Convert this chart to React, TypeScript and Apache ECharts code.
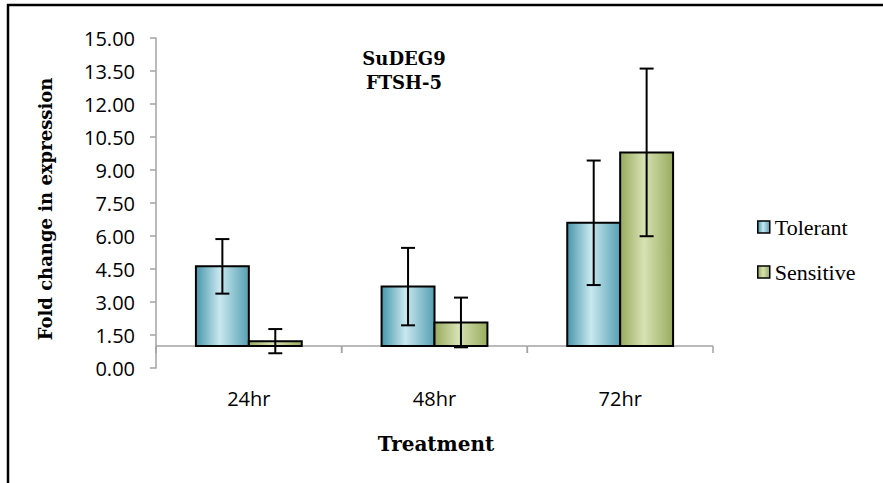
import React, { useEffect, useRef } from "react";
import * as echarts from "echarts";

// Time points after treatment
const categories = ["24hr", "48hr", "72hr"];
// Mean fold change and error (±) for each genotype group
const tolerant = [4.62, 3.7, 6.6];
const tolerantErr = [1.24, 1.76, 2.83];
const sensitive = [1.22, 2.07, 9.8];
const sensitiveErr = [0.55, 1.13, 3.81];
// Bars grow from the no-change level
const baseline = 1;
// Value axis range and step
const yMin = 0;
const yMax = 15;
const yStep = 1.5;

const seriesNames = ["Tolerant", "Sensitive"];
const titleLines = ["SuDEG9", "FTSH-5"];
const yTitle = "Fold change in expression";
const xTitle = "Treatment";

const tolerantFill = () =>
  new echarts.graphic.LinearGradient(0, 0, 1, 0, [
    { offset: 0, color: "#4796ab" },
    { offset: 0.45, color: "#c9e8ef" },
    { offset: 1, color: "#559fb3" },
  ]);
const sensitiveFill = () =>
  new echarts.graphic.LinearGradient(0, 0, 1, 0, [
    { offset: 0, color: "#97ab5c" },
    { offset: 0.45, color: "#d7e2b3" },
    { offset: 1, color: "#98ac5e" },
  ]);

const AXIS_GRAY = "#a3a3a3";
const SERIF = "DejaVu Serif";
const SANS = "Open Sans";

const legendText = {
  fontFamily: "serif",
  fontSize: 22,
  color: "#000",
  lineHeight: 22,
};

function barRenderer(side: number, fillFn: () => any) {
  return (params: any, api: any) => {
    const i = api.value(0);
    const v = api.value(1);
    const e = api.value(2);
    const band = api.size([1, 0])[0];
    const bw = band * 0.285;
    const [cx, yTop] = api.coord([i, v]);
    const yBase = api.coord([i, baseline])[1];
    const yHi = api.coord([i, v + e])[1];
    const yLo = api.coord([i, v - e])[1];
    const left = side < 0 ? cx - bw : cx;
    const mid = left + bw / 2;
    const cap = 7;
    const lineStyle = { stroke: "#000", lineWidth: 2 };
    return {
      type: "group",
      children: [
        {
          type: "rect",
          shape: {
            x: left,
            y: Math.min(yTop, yBase),
            width: bw,
            height: Math.abs(yBase - yTop),
          },
          style: { fill: fillFn(), stroke: "#000", lineWidth: 2 },
        },
        { type: "line", shape: { x1: mid, y1: yHi, x2: mid, y2: yLo }, style: lineStyle },
        { type: "line", shape: { x1: mid - cap, y1: yHi, x2: mid + cap, y2: yHi }, style: lineStyle },
        { type: "line", shape: { x1: mid - cap, y1: yLo, x2: mid + cap, y2: yLo }, style: lineStyle },
      ],
    };
  };
}

export default function App() {
  const ref = useRef<HTMLDivElement>(null);

  useEffect(() => {
    document.body.style.margin = "0";
    if (!ref.current) return;
    const chart = echarts.init(ref.current, undefined, { renderer: "svg" });

    const option: any = {
      animation: false,
      backgroundColor: "#ffffff",
      grid: { left: 156, right: 170, top: 38, bottom: 115 },
      xAxis: {
        type: "category",
        data: categories,
        axisLine: { show: false },
        axisTick: { show: false },
        axisLabel: {
          color: "#000",
          fontFamily: SANS,
          fontSize: 20,
          margin: 20,
        },
      },
      yAxis: {
        type: "value",
        min: yMin,
        max: yMax,
        interval: yStep,
        splitLine: { show: false },
        axisLine: { show: true, lineStyle: { color: AXIS_GRAY, width: 1.5 } },
        axisTick: { show: true, length: 6, lineStyle: { color: AXIS_GRAY, width: 1.5 } },
        axisLabel: {
          color: "#000",
          fontFamily: SANS,
          fontSize: 20,
          margin: 21,
          formatter: (v: number) => v.toFixed(2),
        },
      },
      legend: {
        orient: "vertical",
        left: 757,
        top: 216,
        padding: 0,
        itemWidth: 12,
        itemHeight: 12,
        itemGap: 23,
        textStyle: legendText,
        data: [
          {
            name: seriesNames[0],
            icon: "rect",
            itemStyle: { color: tolerantFill(), borderColor: "#000", borderWidth: 1.5 },
          },
          {
            name: seriesNames[1],
            icon: "rect",
            itemStyle: { color: sensitiveFill(), borderColor: "#000", borderWidth: 1.5 },
          },
        ],
      },
      graphic: [
        {
          type: "rect",
          shape: { x: 8, y: 5, width: 900, height: 520 },
          style: { fill: "none", stroke: "#000", lineWidth: 2.5 },
          silent: true,
        },
        {
          type: "text",
          x: 404,
          y: 58,
          style: {
            text: titleLines[0],
            font: `bold 18px ${SERIF}`,
            fill: "#000",
            align: "center",
            verticalAlign: "middle",
          },
        },
        {
          type: "text",
          x: 404,
          y: 82,
          style: {
            text: titleLines[1],
            font: `bold 18px ${SERIF}`,
            fill: "#000",
            align: "center",
            verticalAlign: "middle",
          },
        },
        {
          type: "text",
          x: 45,
          y: 209,
          rotation: Math.PI / 2,
          style: {
            text: yTitle,
            font: `bold 18px ${SERIF}`,
            fill: "#000",
            align: "center",
            verticalAlign: "middle",
          },
        },
        {
          type: "text",
          x: 436,
          y: 444,
          style: {
            text: xTitle,
            font: `bold 20px ${SERIF}`,
            fill: "#000",
            align: "center",
            verticalAlign: "middle",
          },
        },
      ],
      series: [
        {
          // category axis drawn at the baseline level with boundary ticks
          type: "custom",
          name: "axis",
          z: 1,
          silent: true,
          data: categories.map((_, i) => [i, baseline]),
          encode: { x: 0, y: 1 },
          renderItem: (params: any, api: any) => {
            const i = api.value(0);
            const band = api.size([1, 0])[0];
            const [cx, y] = api.coord([i, api.value(1)]);
            const style = { stroke: AXIS_GRAY, lineWidth: 1.5 };
            return {
              type: "group",
              children: [
                { type: "line", shape: { x1: cx - band / 2, y1: y, x2: cx + band / 2, y2: y }, style },
                { type: "line", shape: { x1: cx - band / 2, y1: y, x2: cx - band / 2, y2: y + 7 }, style },
                { type: "line", shape: { x1: cx + band / 2, y1: y, x2: cx + band / 2, y2: y + 7 }, style },
              ],
            };
          },
        },
        {
          type: "custom",
          name: seriesNames[0],
          z: 3,
          itemStyle: { color: tolerantFill() },
          data: categories.map((_, i) => [i, tolerant[i], tolerantErr[i]]),
          encode: { x: 0, y: 1 },
          renderItem: barRenderer(-1, tolerantFill),
        },
        {
          type: "custom",
          name: seriesNames[1],
          z: 3,
          itemStyle: { color: sensitiveFill() },
          data: categories.map((_, i) => [i, sensitive[i], sensitiveErr[i]]),
          encode: { x: 0, y: 1 },
          renderItem: barRenderer(1, sensitiveFill),
        },
      ],
    };

    chart.setOption(option);
    return () => chart.dispose();
  }, []);

  return <div ref={ref} style={{ width: 883, height: 483 }} />;
}
